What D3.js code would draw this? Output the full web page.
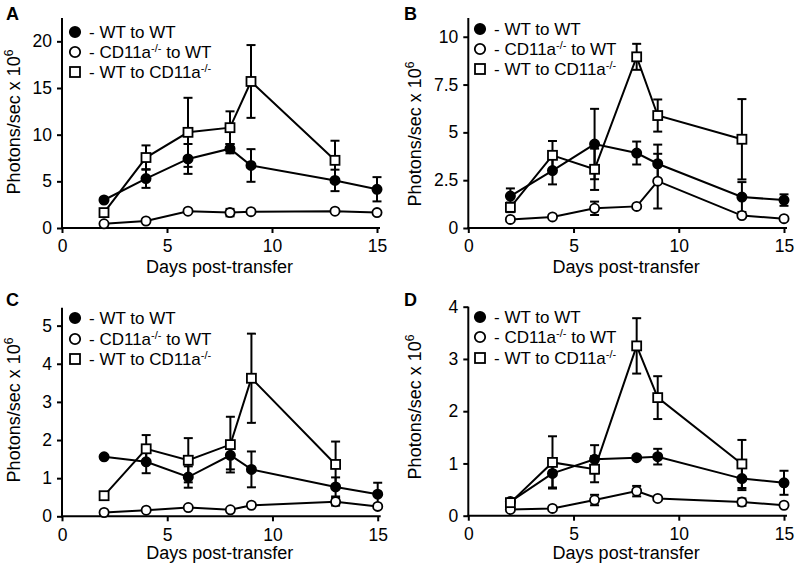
<!DOCTYPE html>
<html>
<head>
<meta charset="utf-8">
<script src="https://cdn.jsdelivr.net/npm/d3@7"></script>
<style>
  body { margin: 0; background: #fff; }
  svg { display: block; font-family: Arial, "Liberation Sans", Helvetica, sans-serif; }
</style>
</head>
<body>
<script>
// ---------- data ----------
const days = [2, 4, 6, 8, 9, 13, 15];
const xTicks = [0, 5, 10, 15];
const panelLabels = ["A", "B", "C", "D"];
const xTitle = "Days post-transfer";
const yTitleBase = "Photons/sec x 10";
const yTitleSup = "6";
const seriesNames = ["WT to WT", "CD11a-/- to WT", "WT to CD11a-/-"];

// Panel A
const aTicks = [0, 5, 10, 15, 20];
const aWtWt = [3.0, 5.3, 7.4, 8.5, 6.7, 5.1, 4.15];
const aWtWtErr = [0, 1.0, 1.6, 0.5, 1.75, 1.15, 1.3];
const aKoWt = [0.45, 0.75, 1.8, 1.65, 1.75, 1.8, 1.65];
const aKoWtErr = [0, 0, 0, 0.4, 0, 0, 0];
const aWtKo = [1.65, 7.55, 10.25, 10.75, 15.7, 7.25, null];
const aWtKoErr = [0, 1.3, 3.7, 1.75, 3.9, 2.1, null];

// Panel B
const bTicks = [0, 2.5, 5, 7.5, 10];
const bWtWt = [1.67, 3.0, 4.39, 3.92, 3.36, 1.62, 1.46];
const bWtWtErr = [0.4, 0.72, 1.84, 0.6, 1.0, 0.78, 0.3];
const bKoWt = [0.45, 0.58, 1.03, 1.13, 2.45, 0.65, 0.49];
const bKoWtErr = [0, 0, 0.35, 0, 1.43, 0, 0];
const bWtKo = [1.08, 3.8, 3.07, 8.95, 5.88, 4.64, null];
const bWtKoErr = [0.25, 0.75, 1.08, 0.68, 0.84, 2.1, null];

// Panel C
const cTicks = [0, 1, 2, 3, 4, 5];
const cWtWt = [1.56, 1.43, 1.03, 1.6, 1.23, 0.77, 0.58];
const cWtWtErr = [0, 0.3, 0.28, 0.37, 0.47, 0.25, 0.3];
const cKoWt = [0.1, 0.16, 0.23, 0.17, 0.29, 0.38, 0.26];
const cKoWtErr = [0, 0, 0, 0, 0, 0.1, 0];
const cWtKo = [0.54, 1.77, 1.47, 1.88, 3.62, 1.36, null];
const cWtKoErr = [0, 0.36, 0.58, 0.73, 1.17, 0.6, null];

// Panel D
const dTicks = [0, 1, 2, 3, 4];
const dWtWt = [0.27, 0.81, 1.08, 1.11, 1.13, 0.71, 0.63];
const dWtWtErr = [0, 0.27, 0.27, 0, 0.15, 0.22, 0.23];
const dKoWt = [0.12, 0.14, 0.3, 0.47, 0.33, 0.26, 0.2];
const dKoWtErr = [0, 0, 0.1, 0.1, 0, 0.07, 0];
const dWtKo = [0.25, 1.02, 0.89, 3.25, 2.26, 0.99, null];
const dWtKoErr = [0, 0.5, 0.25, 0.53, 0.41, 0.46, null];

// ---------- layout ----------
const panels = [
  { label: panelLabels[0], ticks: aTicks, yMax: 22.5, x0: 62, x15: 377, y0: 228, yTop: 18,
    labelX: 6, labelY: 20, titleYX: 20, titleYY: 122, titleXY: 273, legX: 75, legY: [32, 52, 72],
    series: [[aWtWt, aWtWtErr], [aKoWt, aKoWtErr], [aWtKo, aWtKoErr]] },
  { label: panelLabels[1], ticks: bTicks, yMax: 10.98, x0: 468.3, x15: 784, y0: 228, yTop: 18,
    labelX: 404, labelY: 20, titleYX: 421, titleYY: 134, titleXY: 273, legX: 480, legY: [29, 49, 69],
    series: [[bWtWt, bWtWtErr], [bKoWt, bKoWtErr], [bWtKo, bWtKoErr]] },
  { label: panelLabels[2], ticks: cTicks, yMax: 5.47, x0: 62, x15: 377.7, y0: 516.3, yTop: 307.7,
    labelX: 6, labelY: 306, titleYX: 20, titleYY: 410, titleXY: 559, legX: 75, legY: [318, 339, 359],
    series: [[cWtWt, cWtWtErr], [cKoWt, cKoWtErr], [cWtKo, cWtKoErr]] },
  { label: panelLabels[3], ticks: dTicks, yMax: 4, x0: 468.3, x15: 784, y0: 515.7, yTop: 306.7,
    labelX: 404, labelY: 306, titleYX: 421, titleYY: 407, titleXY: 559, legX: 480, legY: [317, 337, 358],
    series: [[dWtWt, dWtWtErr], [dKoWt, dKoWtErr], [dWtKo, dWtKoErr]] }
];

const svg = d3.select("body").append("svg").attr("width", 800).attr("height", 570);

function drawMarker(g, type, cx, cy, size) {
  if (type === 2) {
    g.append("rect").attr("x", cx - size).attr("y", cy - size)
      .attr("width", size * 2).attr("height", size * 2)
      .attr("fill", "#fff").attr("stroke", "#000").attr("stroke-width", 1.8);
  } else {
    g.append("circle").attr("cx", cx).attr("cy", cy).attr("r", size)
      .attr("fill", type === 0 ? "#000" : "#fff").attr("stroke", "#000").attr("stroke-width", 1.8);
  }
}

panels.forEach(p => {
  const g = svg.append("g");
  const x = d3.scaleLinear().domain([0, 15]).range([p.x0, p.x15]);
  const y = d3.scaleLinear().domain([0, p.yMax]).range([p.y0, p.yTop]);

  // axes
  const xa = g.append("g").attr("transform", `translate(0,${y(0)})`)
    .call(d3.axisBottom(x).tickValues(xTicks).tickSize(5).tickPadding(7).tickFormat(d3.format("")));
  const ya = g.append("g").attr("transform", `translate(${x(0)},0)`)
    .call(d3.axisLeft(y).tickValues(p.ticks).tickSize(5).tickPadding(5).tickFormat(d3.format("")));
  [xa, ya].forEach(a => {
    a.select(".domain").remove();
    a.selectAll(".tick line").attr("stroke", "#000").attr("stroke-width", 2);
    a.selectAll(".tick text").attr("fill", "#000").attr("font-size", 17.5)
      .attr("font-family", "Arial, 'Liberation Sans', sans-serif");
  });
  g.append("line").attr("x1", x(0) - 1).attr("x2", x(15) + 3).attr("y1", y(0)).attr("y2", y(0))
    .attr("stroke", "#000").attr("stroke-width", 2);
  g.append("line").attr("x1", x(0)).attr("x2", x(0)).attr("y1", y(0) + 1).attr("y2", y(p.yMax))
    .attr("stroke", "#000").attr("stroke-width", 2);

  // axis titles
  g.append("text").attr("x", (x(0) + x(15)) / 2).attr("y", p.titleXY)
    .attr("text-anchor", "middle").attr("font-size", 18).text(xTitle);
  const yt = g.append("text").attr("transform", `translate(${p.titleYX},${p.titleYY}) rotate(-90)`)
    .attr("text-anchor", "middle").attr("font-size", 18);
  yt.append("tspan").text(yTitleBase);
  yt.append("tspan").attr("dy", -7).attr("font-size", 12).text(yTitleSup);

  // panel label
  g.append("text").attr("x", p.labelX).attr("y", p.labelY).attr("font-size", 18)
    .attr("font-weight", "bold").text(p.label);

  const seriesPts = p.series.map(([vals, errs]) =>
    days.map((d, i) => ({ d, v: vals[i], e: errs[i] })).filter(o => o.v != null));

  const line = d3.line().x(o => x(o.d)).y(o => y(o.v));
  // lines
  seriesPts.forEach(pts => {
    g.append("path").attr("d", line(pts)).attr("fill", "none")
      .attr("stroke", "#000").attr("stroke-width", 2);
  });
  // error bars
  seriesPts.forEach(pts => {
    pts.filter(o => o.e > 0).forEach(o => {
      const cx = x(o.d), top = y(o.v + o.e), bot = y(o.v - o.e);
      g.append("line").attr("x1", cx).attr("x2", cx).attr("y1", top).attr("y2", bot)
        .attr("stroke", "#000").attr("stroke-width", 2);
      [top, bot].forEach(yy => g.append("line").attr("x1", cx - 4.5).attr("x2", cx + 4.5)
        .attr("y1", yy).attr("y2", yy).attr("stroke", "#000").attr("stroke-width", 2));
    });
  });
  // markers
  seriesPts.forEach((pts, si) => {
    pts.forEach(o => drawMarker(g, si, x(o.d), y(o.v), si === 2 ? 4.5 : 4.6));
  });

  // legend
  seriesNames.forEach((name, si) => {
    const ly = p.legY[si];
    drawMarker(g, si, p.legX, ly, si === 2 ? 5 : 5.2);
    const t = g.append("text").attr("x", p.legX + 14).attr("y", ly + 6).attr("font-size", 17);
    const m = name.match(/^(.*?CD11a)(-\/-)(.*)$/);
    if (m) {
      t.append("tspan").text("- " + m[1]);
      t.append("tspan").attr("dy", -6).attr("font-size", 11).text(m[2]);
      if (m[3]) t.append("tspan").attr("dy", 6).text(m[3]);
    } else {
      t.append("tspan").text("- " + name);
    }
  });
});
</script>
</body>
</html>
